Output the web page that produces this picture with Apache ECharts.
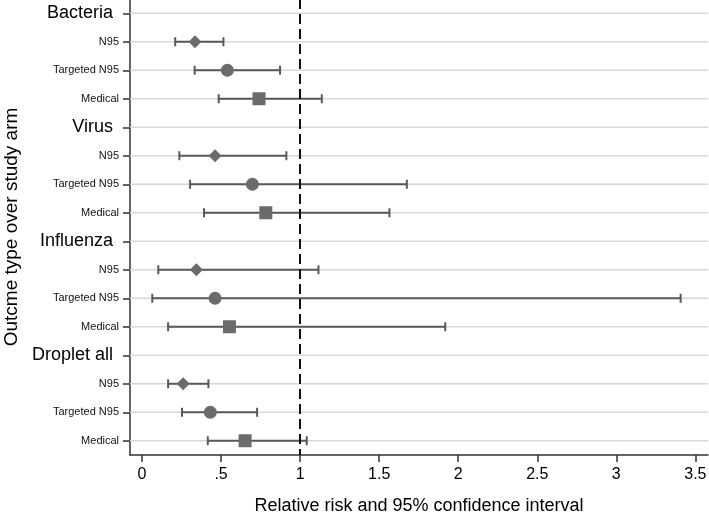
<!DOCTYPE html>
<html>
<head>
<meta charset="utf-8">
<script src="https://cdn.jsdelivr.net/npm/echarts@6/dist/echarts.min.js"></script>
<style>
html,body{margin:0;padding:0;background:#fff;}
#chart{width:709px;height:513px;}
</style>
</head>
<body>
<div id="chart"></div>
<script>
// ---- data ----
const groups = ["Bacteria", "Virus", "Influenza", "Droplet all"];
const arms = ["N95", "Targeted N95", "Medical"];
// per arm, values for each group (Bacteria, Virus, Influenza, Droplet all)
const n95Est = [0.335, 0.462, 0.344, 0.26];
const n95Lo  = [0.21, 0.236, 0.103, 0.165];
const n95Hi  = [0.515, 0.913, 1.116, 0.42];
const tgtEst = [0.54, 0.698, 0.462, 0.432];
const tgtLo  = [0.333, 0.304, 0.065, 0.253];
const tgtHi  = [0.873, 1.675, 3.407, 0.728];
const medEst = [0.74, 0.783, 0.553, 0.652];
const medLo  = [0.485, 0.392, 0.165, 0.416];
const medHi  = [1.137, 1.565, 1.918, 1.042];
const xTickValues = [0, 0.5, 1, 1.5, 2, 2.5, 3, 3.5];
const xTickLabels = ["0", ".5", "1", "1.5", "2", "2.5", "3", "3.5"];
const refValue = 1;

// ---- build rows ----
const rowLabels = [];
const rowIsHeader = [];
groups.forEach(g => {
  rowLabels.push(g); rowIsHeader.push(true);
  arms.forEach(a => { rowLabels.push(a); rowIsHeader.push(false); });
});
const rowIdx = (g, a) => g * 4 + 1 + a;
const armData = [
  {est: n95Est, lo: n95Lo, hi: n95Hi, symbol: 'diamond', size: 13},
  {est: tgtEst, lo: tgtLo, hi: tgtHi, symbol: 'circle', size: 13},
  {est: medEst, lo: medLo, hi: medHi, symbol: 'rect', size: 13}
];
const ciData = [];
armData.forEach((ad, a) => {
  groups.forEach((g, gi) => ciData.push([ad.lo[gi], ad.hi[gi], rowIdx(gi, a)]));
});
const gridData = rowLabels.map((l, i) => [0, i]);

const chart = echarts.init(document.getElementById('chart'), null, {renderer: 'canvas'});
const FONT = 'Liberation Sans, Arial, sans-serif';
const MARK = '#6b6b6b';
const LINE = '#585858';

const series = [
  {
    type: 'custom',
    name: 'grid',
    silent: true,
    z: 1,
    encode: {x: 0, y: 1},
    data: gridData,
    renderItem: function (params, api) {
      const cs = params.coordSys;
      const y = api.coord([0, api.value(1)])[1];
      return {
        type: 'line',
        shape: {x1: cs.x, y1: y, x2: cs.x + cs.width, y2: y},
        style: {stroke: '#d8d8d8', lineWidth: 1.5}
      };
    },
    markLine: {
      silent: true,
      symbol: 'none',
      label: {show: false},
      z: 5,
      lineStyle: {color: '#111', width: 2, type: [10, 5]},
      data: [{xAxis: refValue}]
    }
  },
  {
    type: 'custom',
    name: 'ci',
    silent: true,
    z: 3,
    encode: {x: [0, 1], y: 2},
    data: ciData,
    renderItem: function (params, api) {
      const p1 = api.coord([api.value(0), api.value(2)]);
      const p2 = api.coord([api.value(1), api.value(2)]);
      const h = 4.5;
      const st = {stroke: LINE, lineWidth: 2};
      return {
        type: 'group',
        children: [
          {type: 'line', shape: {x1: p1[0], y1: p1[1], x2: p2[0], y2: p2[1]}, style: st},
          {type: 'line', shape: {x1: p1[0], y1: p1[1] - h, x2: p1[0], y2: p1[1] + h}, style: st},
          {type: 'line', shape: {x1: p2[0], y1: p2[1] - h, x2: p2[0], y2: p2[1] + h}, style: st}
        ]
      };
    }
  }
];
armData.forEach((ad, a) => {
  series.push({
    type: 'scatter',
    name: arms[a],
    z: 6,
    symbol: ad.symbol,
    symbolSize: ad.size,
    itemStyle: {color: MARK, opacity: 1},
    data: groups.map((g, gi) => [ad.est[gi], rowIdx(gi, a)])
  });
});

chart.setOption({
  animation: false,
  backgroundColor: '#fff',
  grid: {left: 130, right: 1, top: -1, bottom: 58, containLabel: false, outerBoundsMode: 'none'},
  xAxis: {
    type: 'value',
    min: -0.076,
    max: 3.58,
    name: 'Relative risk and 95% confidence interval',
    nameLocation: 'middle',
    nameGap: 42,
    nameTextStyle: {fontFamily: FONT, fontSize: 18, color: '#000'},
    axisLine: {show: true, onZero: false, lineStyle: {color: '#333', width: 1.5}},
    axisTick: {show: true, length: 7, customValues: xTickValues, lineStyle: {color: '#333', width: 1.5}},
    axisLabel: {
      customValues: xTickValues,
      margin: 12,
      fontFamily: FONT, fontSize: 16, color: '#000',
      formatter: function (v) {
        const i = xTickValues.indexOf(v);
        return i >= 0 ? xTickLabels[i] : '';
      }
    },
    splitLine: {show: false}
  },
  yAxis: {
    type: 'category',
    inverse: true,
    data: rowLabels.map((l, i) => String(i)),
    name: 'Outcme type over study arm',
    nameLocation: 'middle',
    nameRotate: 90,
    nameGap: 108,
    nameTextStyle: {fontFamily: FONT, fontSize: 19, color: '#000'},
    axisLine: {show: true, onZero: false, lineStyle: {color: '#333', width: 1.5}},
    axisTick: {show: true, alignWithLabel: true, interval: 0, length: 7, lineStyle: {color: '#333', width: 1.5}},
    axisLabel: {
      interval: 0,
      margin: 11,
      formatter: function (v, i) {
        const idx = Number(v);
        return rowIsHeader[idx] ? '{h|' + rowLabels[idx] + '}' : '{s|' + rowLabels[idx] + '}';
      },
      rich: {
        h: {fontFamily: FONT, fontSize: 18, color: '#000', padding: [0, 6, 0, 0]},
        s: {fontFamily: FONT, fontSize: 11, color: '#111'}
      }
    },
    splitLine: {show: false}
  },
  series: series
});
</script>
</body>
</html>
